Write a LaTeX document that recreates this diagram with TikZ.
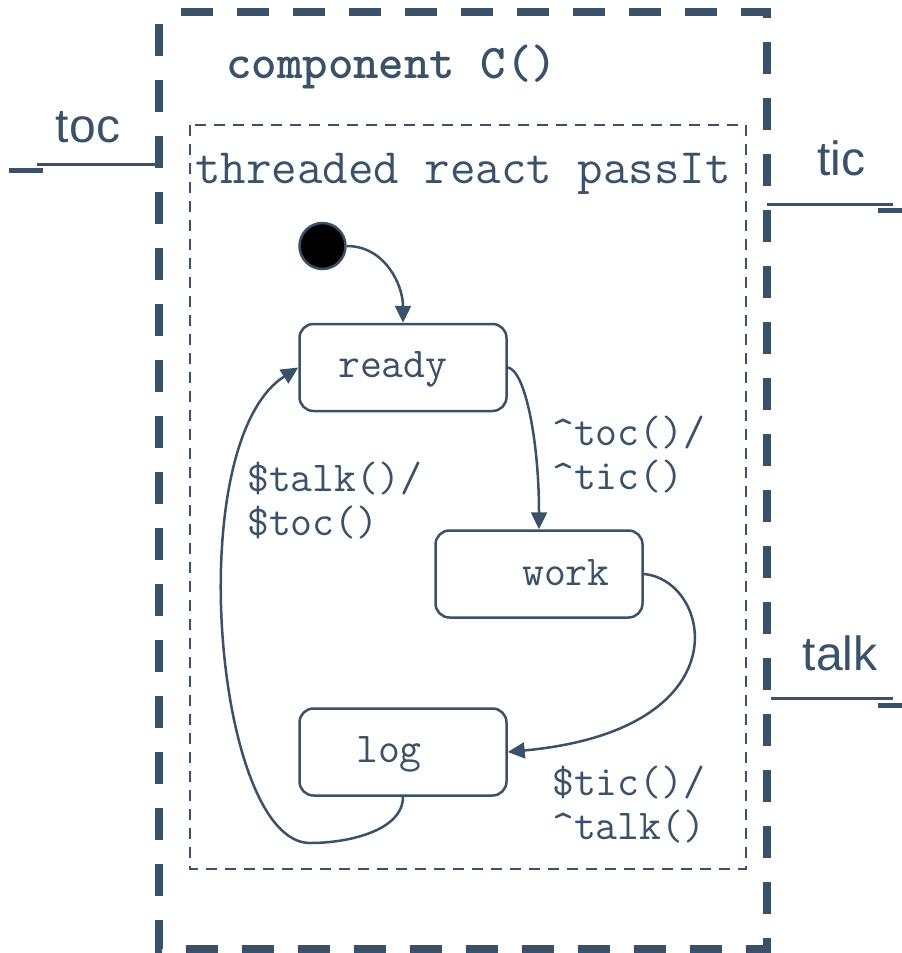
\documentclass[tikz,border=0pt]{standalone}
\usepackage{fontspec}
\newfontfamily\portfont{Liberation Sans}
\usetikzlibrary{arrows.meta}
\definecolor{slate}{HTML}{3A5169}
\tikzstyle{statebox}=[draw=slate, rounded corners=14pt, line width=2.5pt, minimum width=207pt, minimum height=87pt, inner sep=0pt]
\tikzstyle{statename}=[text=slate, font=\ttfamily\fontsize{42.5}{42.5}\selectfont, anchor=base west, inner sep=0pt]
\tikzstyle{trans}=[draw=slate, line width=2.5pt, -{Triangle[length=17pt,width=16pt]}]
\tikzstyle{translabel}=[text=slate, font=\ttfamily\fontsize{42.5}{44}\selectfont, align=left, anchor=base west, inner sep=0pt]
\tikzstyle{portname}=[text=slate, font=\portfont\fontsize{48}{48}\selectfont, anchor=base, inner sep=0pt]
\tikzstyle{portline}=[draw=slate, line width=3pt]
\tikzstyle{portstub}=[draw=slate, line width=5pt]

\begin{document}
\begin{tikzpicture}[x=1pt, y=-1pt]
		\useasboundingbox (0,0) rectangle (902,953);
		% component frame and region
		\draw[slate, line width=8pt, dash pattern=on 32pt off 24pt, dash phase=-12pt] (159,12) rectangle (767,949);
		\draw[slate, line width=2pt, dash pattern=on 11pt off 8pt] (190,125) rectangle (746,869);
		\node[text=slate, font=\ttfamily\fontseries{b}\fontsize{48.5}{48.5}\selectfont, anchor=base west, inner sep=0pt](title) at (226,78) {component C()};
		\node[text=slate, font=\ttfamily\fontsize{49.5}{49.5}\selectfont, anchor=base west, inner sep=0pt](region) at (195,183) {threaded react passIt};
		% ports
		\coordinate (tocin) at (159,164);
		\coordinate (tocout) at (37,164);
		\coordinate (ticin) at (767,204.5);
		\coordinate (ticout) at (893,204.5);
		\coordinate (talkin) at (771,698.5);
		\coordinate (talkout) at (893,698.5);
		\path[portline] (tocout) -- (tocin) (ticin) -- (ticout) (talkin) -- (talkout);
		\path[portstub] (9,170.5) -- (43,170.5) (878,210) -- (902,210) (878,705.5) -- (902,705.5);
		\node[portname](toclbl) at (88,142) {toc};
		\node[portname](ticlbl) at (841,175) {tic};
		\node[portname](talklbl) at (840,670) {talk};
		% states
		\node[circle, draw=slate, fill=black, line width=2.5pt, minimum size=46pt, inner sep=0pt](init) at (322.5,246) {};
		\node[statebox](ready) at (403,367.5) {};
		\node[statebox](work) at (539,574) {};
		\node[statebox](log) at (403,752) {};
		\node[statename](readytxt) at (338,377) {ready};
		\node[statename](worktxt) at (522,585) {work};
		\node[statename](logtxt) at (356,762) {log};
		% transitions
		\coordinate (loopbottom) at (310,843);
		\path[trans] (init.east) .. controls (385,246) and (403,285) .. (ready.north);
		\path[trans] (ready.east) .. controls (525,370) and (539,440) .. (work.north);
		\path[trans] (work.east) .. controls (712,580) and (745,730) .. (log.east);
		\path[trans] (log.south) .. controls (403,830) and (350,843) .. (loopbottom) .. controls (215,843) and (180,443) .. (ready.west);
		\node[translabel](toclabel) at (552,489) {\textasciicircum toc()/\\\textasciicircum tic()};
		\node[translabel](talklabel) at (247,535) {\$talk()/\\\$toc()};
		\node[translabel](ticlabel) at (552,839) {\$tic()/\\\textasciicircum talk()};
	\end{tikzpicture}
\end{document}
